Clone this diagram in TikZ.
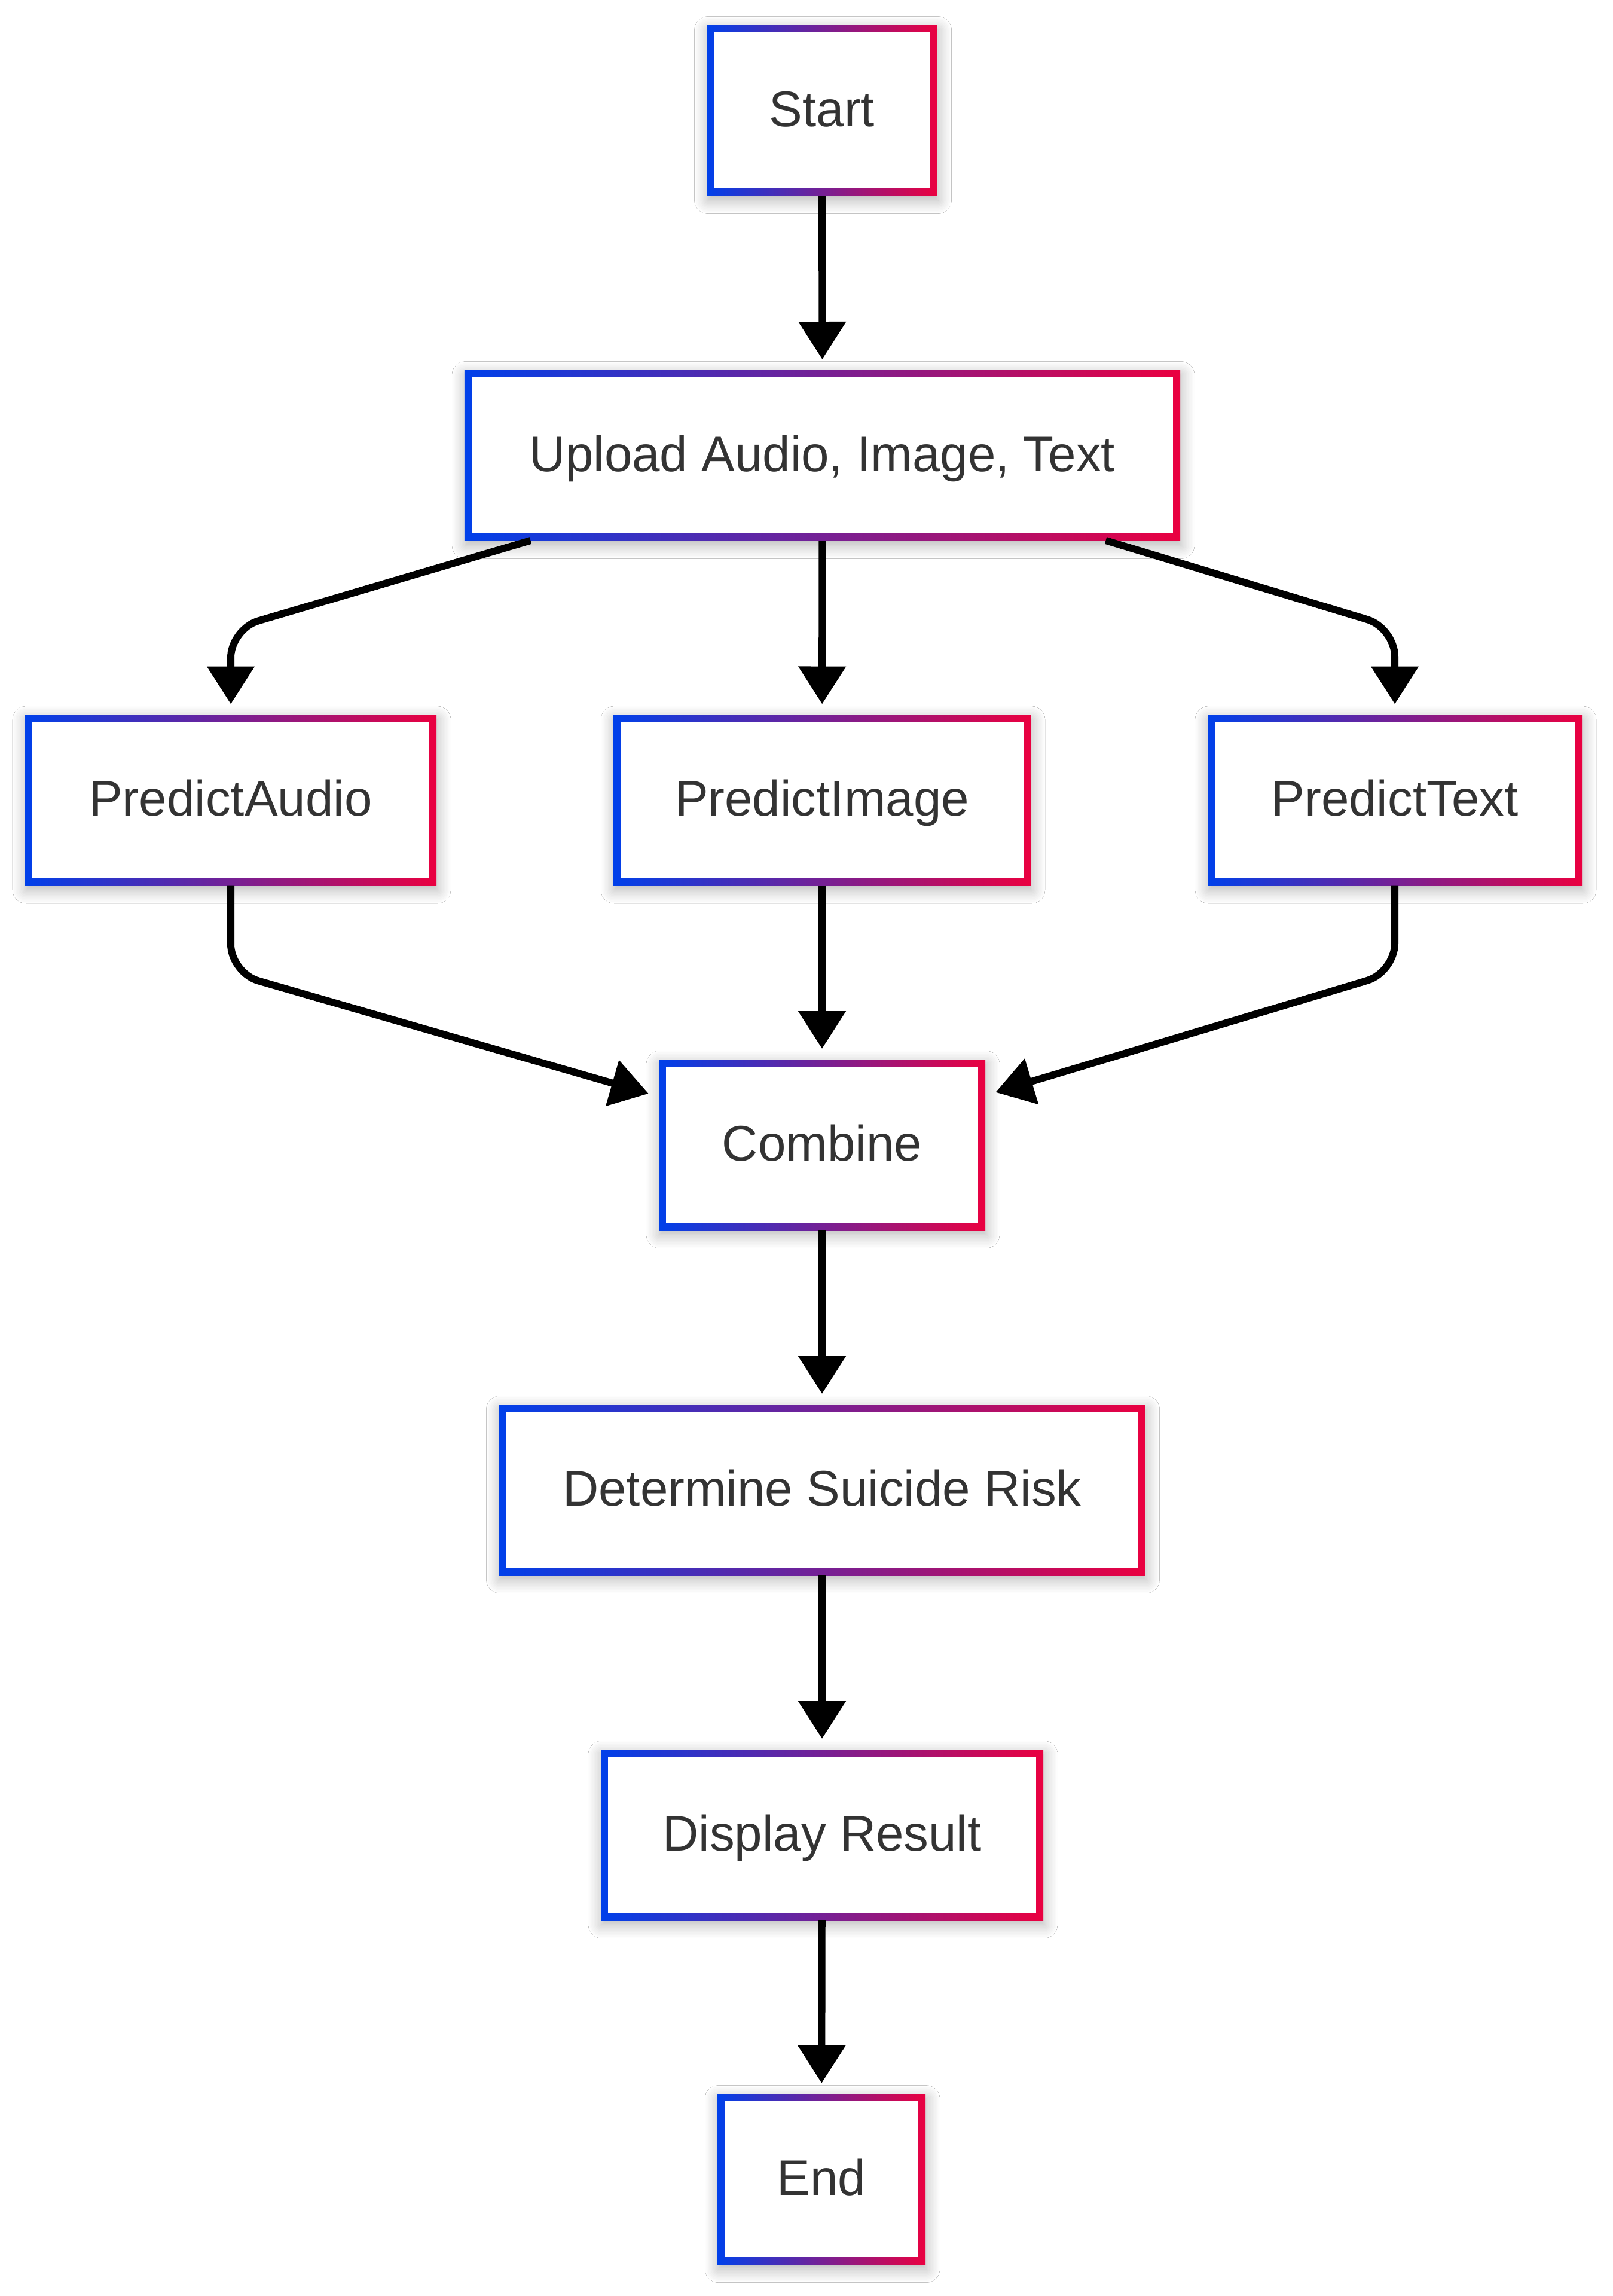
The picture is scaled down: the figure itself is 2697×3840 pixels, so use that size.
\documentclass[tikz,border=0pt]{standalone}
\usepackage{fontspec}
\setmainfont{Liberation Sans}
\usetikzlibrary{arrows.meta,backgrounds,shadows.blur}
\definecolor{gblue}{HTML}{0040EA}
\definecolor{gred}{HTML}{EA0040}
\definecolor{txt}{HTML}{333333}
\begin{document}
\begin{tikzpicture}[x=0.2pt,y=-0.2pt,
  box/.style={rectangle, fill=white, draw=none, outer sep=2.4pt, inner sep=0pt,
    text=txt, font=\fontsize{16.7pt}{20pt}\selectfont,
    text height=11.96pt, text depth=1.2pt, minimum height=52.2pt},
  border/.style={left color=gblue, right color=gred,
    blur shadow={shadow xshift=0.3pt, shadow yshift=-1.6pt, shadow blur radius=4.5pt,
      shadow blur steps=10, shadow opacity=30}},
  link/.style={line width=2.4pt, -{Triangle[length=12.6pt,width=15.4pt]},
    shorten >=3.6pt, rounded corners=9.6pt}]
\useasboundingbox (0,0) rectangle (2697,3840);

\node[box, minimum width=72.2pt]  (start)   at (1375,184.5)  {Start};
\node[box, minimum width=234.6pt] (upload)  at (1375.5,761.5) {Upload Audio, Image, Text};
\node[box, minimum width=132.8pt] (paudio)  at (386,1338)    {PredictAudio};
\node[box, minimum width=134.8pt] (pimage)  at (1375,1338)   {PredictImage};
\node[box, minimum width=120.4pt] (ptext)   at (2333,1338)   {PredictText};
\node[box, minimum width=104.4pt] (combine) at (1375,1914.5) {Combine};
\node[box, minimum width=211.4pt] (risk)    at (1375,2491.5) {Determine Suicide Risk};
\node[box, minimum width=143.2pt] (display) at (1375,3068.5) {Display Result};
\node[box, minimum width=64.8pt]  (end)     at (1374,3644.5) {End};

\begin{scope}[on background layer]
\fill[white] (0,0) rectangle (2697,3840);
\foreach \n in {start,upload,paudio,pimage,ptext,combine,risk,display,end}
  \path[border] (\n.south west) rectangle (\n.north east);
\end{scope}

\draw[link] (start) -- (upload);
\draw[link] ([xshift=-97.6pt]upload.south) -- (386,1052) -- (paudio.north);
\draw[link] (upload) -- (pimage);
\draw[link] ([xshift=94.8pt]upload.south) -- (2333,1050) -- (ptext.north);
\draw[link] (paudio.south) -- (386,1627) -- ([yshift=-12.4pt]combine.north west);
\draw[link] (pimage) -- (combine);
\draw[link] (ptext.south) -- (2333,1626) -- ([yshift=-12pt]combine.north east);
\draw[link] (combine) -- (risk);
\draw[link] (risk) -- (display);
\draw[link] (display) -- (end);
\end{tikzpicture}
\end{document}
